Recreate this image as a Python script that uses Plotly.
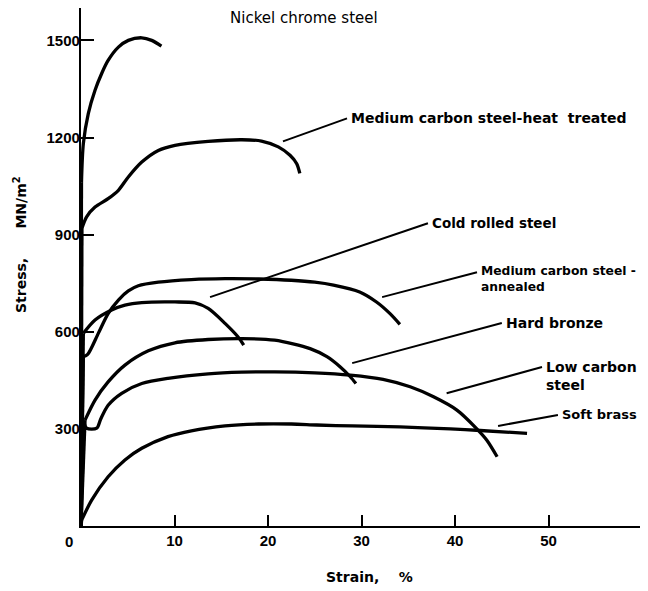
import plotly.graph_objects as go

# ---- data (strain %, stress MN/m^2) ----
ni_strain = [0, 0.05, 0.25, 0.78, 1.5, 2.2, 2.9, 4.0, 5.06, 6.5, 7.56, 8.6]
ni_stress = [0, 1060, 1181, 1274, 1346, 1397, 1438, 1479, 1500, 1508, 1500, 1482]

mh_strain = [0, 0.1, 0.6, 1.5, 2.9, 4.0, 5.06, 6.5, 8.27, 10.05, 13.6, 17.2, 19.3, 21.1, 22.35, 23.07, 23.4]
mh_stress = [0, 920, 955, 985, 1011, 1037, 1078, 1124, 1160, 1176, 1188, 1193, 1189, 1171, 1145, 1119, 1089]

cr_strain = [0, 0.25, 1.5, 3.28, 4.7, 6.5, 10.05, 12.2, 13.6, 15.4, 16.8, 17.4]
cr_stress = [0, 595, 636, 667, 682, 690, 692, 689, 672, 626, 584, 559]

ma_strain = [0, 0.25, 0.71, 1.85, 2.9, 4.0, 5.06, 6.13, 8.27, 11.8, 15.4, 19.0, 22.5, 25.0, 27.0, 29.8, 31.6, 33.05, 34.1]
ma_stress = [0, 523, 530, 595, 656, 698, 726, 742, 753, 761, 764, 763, 759, 753, 744, 723, 692, 656, 623]

hb_strain = [0, 0.43, 1.5, 2.9, 4.7, 7.2, 10.05, 13.6, 17.2, 20.7, 24.5, 26.3, 27.7, 28.8, 29.4]
hb_stress = [0, 327, 389, 445, 497, 541, 566, 576, 579, 574, 548, 523, 492, 461, 440]

lc_strain = [0, 0.3, 0.6, 1.68, 2.1, 2.9, 4.35, 6.5, 9.3, 13.6, 17.2, 20.7, 25.0, 28.8, 32.3, 35.2, 37.7, 40.2, 42.2, 43.4, 44.5]
lc_stress = [0, 325, 302, 302, 330, 373, 410, 440, 456, 470, 475, 476, 473, 466, 453, 430, 399, 358, 304, 265, 214]

sb_strain = [0, 0.07, 1.14, 2.9, 4.7, 6.5, 9.3, 11.8, 15.4, 19.0, 22.5, 25.2, 29.0, 34.1, 39.5, 42.7, 47.7]
sb_stress = [0, 18, 80, 152, 204, 240, 276, 294, 309, 315, 315, 312, 309, 306, 300, 295, 286]

x_ticks = [10, 20, 30, 40, 50]
y_ticks = [300, 600, 900, 1200, 1500]

# labels: text, leader start (x,y), leader end (x,y), font size
labels = [
    ("Medium carbon steel-heat  treated", (21.6, 1188), (28.45, 1259), 14),
    ("Cold rolled steel", (13.8, 707), (37.1, 935), 13.5),
    ("Medium carbon steel -<br>annealed", (32.2, 707), (42.35, 784), 12.3),
    ("Hard bronze", (29.0, 503), (45.0, 627), 14),
    ("Low carbon<br>steel", (39.1, 410), (49.3, 491), 14),
    ("Soft brass", (44.6, 309), (51.0, 343), 13),
]

series = [
    (ni_strain, ni_stress),
    (mh_strain, mh_stress),
    (cr_strain, cr_stress),
    (ma_strain, ma_stress),
    (hb_strain, hb_stress),
    (lc_strain, lc_stress),
    (sb_strain, sb_stress),
]

LBL = "DejaVu Sans"
TICK = "Liberation Sans"
fig = go.Figure()
for xs, ys in series:
    fig.add_trace(go.Scatter(x=xs[:2], y=ys[:2], mode="lines",
                             line=dict(color="black", width=3.3), hoverinfo="skip"))
    fig.add_trace(go.Scatter(x=xs[1:], y=ys[1:], mode="lines",
                             line=dict(color="black", width=3.3, shape="spline", smoothing=0.8),
                             hoverinfo="skip"))

for text, (x0, y0), (x1, y1), fs in labels:
    fig.add_shape(type="line", x0=x0, y0=y0, x1=x1, y1=y1, xref="x", yref="y",
                  line=dict(color="black", width=2))
    two = "<br>" in text
    fig.add_annotation(x=x1, y=y1, text="<b>" + text + "</b>", showarrow=False,
                       xanchor="left", yanchor="top" if two else "middle",
                       yshift=10 if two else 0,
                       xshift=2, align="left",
                       font=dict(family=LBL, size=fs, color="black"))

fig.add_annotation(x=15.7, y=1569, text="Nickel chrome steel", showarrow=False,
                   xanchor="left", yanchor="middle",
                   font=dict(family=LBL, size=15, color="black"))

# corner zero
fig.add_annotation(x=0, y=0, text="<b>0</b>", showarrow=False, xanchor="center", yanchor="middle",
                   xshift=-12, yshift=-15, font=dict(family=TICK, size=15, color="black"))

# axis titles
fig.add_annotation(xref="paper", yref="paper", x=(369 - 81) / 562, y=(526 - 577) / 518,
                   text="<b>Strain,&nbsp;&nbsp;&nbsp; %</b>", showarrow=False,
                   xanchor="center", yanchor="middle",
                   font=dict(family=LBL, size=14, color="black"))
fig.add_annotation(xref="paper", yref="paper", x=(20 - 81) / 562, y=(526 - 245) / 518,
                   text="<b>Stress,&nbsp;&nbsp;&nbsp;&nbsp;&nbsp; MN/m<sup>2</sup></b>", showarrow=False,
                   textangle=-90, xanchor="center", yanchor="middle",
                   font=dict(family=LBL, size=14, color="black"))

# page body adds an 8px offset; plot area spans x 81..643, y 8..526 on the page
fig.update_layout(
    width=640, height=583,
    margin=dict(l=73, r=5, t=0, b=65, autoexpand=False),
    paper_bgcolor="white", plot_bgcolor="white",
    showlegend=False,
)
fig.update_xaxes(range=[0, 60.1], tickvals=x_ticks, ticks="inside", ticklen=11, tickwidth=2,
                 tickcolor="black", showgrid=False, zeroline=False, showline=True,
                 linecolor="black", linewidth=2.2, automargin=False,
                 tickfont=dict(family=TICK, size=15, color="black", weight="bold"))
fig.update_yaxes(range=[0, 1600], tickvals=y_ticks, ticks="inside", ticklen=13, tickwidth=2,
                 tickcolor="black", showgrid=False, zeroline=False, showline=True,
                 linecolor="black", linewidth=2.2, automargin=False, ticklabelstandoff=-4,
                 tickfont=dict(family=TICK, size=15, color="black", weight="bold"))

fig.write_html("out.html")
